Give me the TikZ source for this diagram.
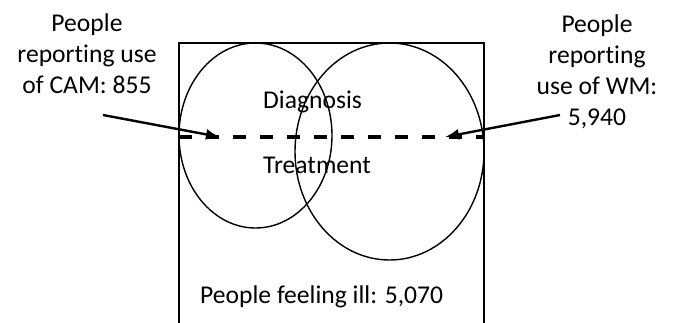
\documentclass[tikz,border=0pt]{standalone}
\usepackage{fontspec}
\setmainfont{Carlito}[Ligatures={NoCommon}]
\usepackage{tikz}
\usetikzlibrary{positioning,arrows.meta}

\tikzset{
  lbl/.style={inner sep=0pt, font=\fontsize{25.6}{31}\selectfont},
  pointer/.style={-{Latex[length=14pt,width=11pt]}, line width=2.4pt},
  set/.style={line width=1.4pt}
}

\begin{document}
\begin{tikzpicture}[x=1pt,y=-1pt]
\useasboundingbox (0,0) rectangle (674,322);
\draw[set] (179,330) -- (179,43) -- (484,43) -- (484,330);
\draw[set] (255.5,135.5) ellipse (76.5 and 92.5);
\draw[set] (389.5,151.5) ellipse (94.5 and 108.5);
\coordinate (dl) at (179,137);
\coordinate (dr) at (484,137);
\draw[line width=3.5pt, dash pattern=on 13pt off 14pt] (dl) -- (dr);

% labels (base anchor sits on the last line)
\node[lbl, align=center, anchor=base] (cam) at (87,93) {People\\reporting use\\of CAM: 855};
\node[lbl, align=center, anchor=base] (wm) at (597,125) {People\\reporting\\use of WM:\\5,940};
\node[lbl, anchor=base west] (diag) at (263,108) {Diagnosis};
\node[lbl, anchor=base west] (treat) at (263,173) {Treatment};
\node[lbl, anchor=base west] (ill) at (200,303) {People feeling ill: 5,070};

\coordinate (camfrom) at (103,115);
\coordinate (camto) at (220,137);
\coordinate (wmfrom) at (560,115);
\coordinate (wmto) at (445,137);
\draw[pointer] (camfrom) -- (camto);
\draw[pointer] (wmfrom) -- (wmto);
\end{tikzpicture}
\end{document}
